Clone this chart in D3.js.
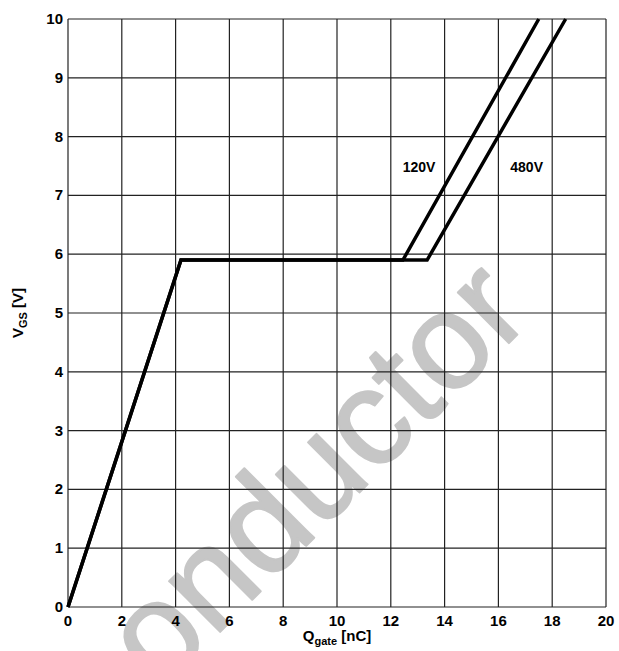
<!DOCTYPE html>
<html>
<head>
<meta charset="utf-8">
<script src="https://cdn.jsdelivr.net/npm/d3@7"></script>
<style>
  body{margin:0;background:#fff;}
  text{font-family:"Liberation Sans",Arial,sans-serif;font-weight:bold;}
</style>
</head>
<body>
<svg></svg>
<script>
// gate charge curves
var xTicks=[0,2,4,6,8,10,12,14,16,18,20];
var yTicks=[0,1,2,3,4,5,6,7,8,9,10];
var q120=[0,4.2,12.45,17.5];
var v120=[0,5.9,5.9,10];
var q480=[0,4.2,13.35,18.5];
var v480=[0,5.9,5.9,10];
var curveLabels=["120V","480V"];

var scren={width:619,height:651};
var margins={top:19,left:68,right:13,bottom:44};
var boxWidth=scren.width-margins.left-margins.right;
var boxHeight=scren.height-margins.top-margins.bottom;

var svg=d3.select("svg")
  .attr("width",scren.width)
  .attr("height",scren.height);

var xScale=d3.scaleLinear().domain([0,20]).range([0,boxWidth]);
var yScale=d3.scaleLinear().domain([0,10]).range([boxHeight,0]);

// watermark (behind everything)
svg.append("text")
  .attr("transform","translate(160,692) rotate(-45)")
  .attr("font-size",136)
  .style("font-weight","normal")
  .attr("fill","#c6c6c6")
  .attr("stroke","#c6c6c6")
  .attr("stroke-width",2)
  .attr("stroke-linejoin","round")
  .text("onductor");

var plot=svg.append("g")
  .attr("transform","translate("+margins.left+","+margins.top+")");

// grid
plot.append("g").selectAll("line").data(xTicks).enter().append("line")
  .attr("x1",d=>xScale(d)).attr("x2",d=>xScale(d))
  .attr("y1",0).attr("y2",boxHeight)
  .attr("stroke","#222").attr("stroke-width",1.2);
plot.append("g").selectAll("line").data(yTicks).enter().append("line")
  .attr("y1",d=>yScale(d)).attr("y2",d=>yScale(d))
  .attr("x1",0).attr("x2",boxWidth)
  .attr("stroke","#222").attr("stroke-width",1.2);

// tick labels
plot.append("g").selectAll("text").data(xTicks).enter().append("text")
  .attr("x",d=>xScale(d)).attr("y",boxHeight+19)
  .attr("text-anchor","middle").attr("font-size",15)
  .text(d=>d);
plot.append("g").selectAll("text").data(yTicks).enter().append("text")
  .attr("x",-5).attr("y",d=>yScale(d)+5)
  .attr("text-anchor","end").attr("font-size",15)
  .text(d=>d);

// curves
var line=d3.line().x(d=>xScale(d[0])).y(d=>yScale(d[1]));
[[q480,v480],[q120,v120]].forEach(function(s){
  plot.append("path")
    .datum(s[0].map((q,i)=>[q,s[1][i]]))
    .attr("d",line)
    .attr("fill","none").attr("stroke","#000")
    .attr("stroke-width",3.5).attr("stroke-linejoin","miter");
});

plot.append("text").attr("x",xScale(13.05)).attr("y",yScale(7.4))
  .attr("text-anchor","middle").attr("font-size",14).text(curveLabels[0]);
plot.append("text").attr("x",xScale(17.05)).attr("y",yScale(7.4))
  .attr("text-anchor","middle").attr("font-size",14).text(curveLabels[1]);

// axis titles
var xt=svg.append("text").attr("x",margins.left+boxWidth/2).attr("y",641)
  .attr("text-anchor","middle").attr("font-size",15);
xt.append("tspan").text("Q");
xt.append("tspan").attr("font-size",11).attr("dy",4).text("gate");
xt.append("tspan").attr("dy",-4).text(" [nC]");

var yt=svg.append("text")
  .attr("transform","translate(23,"+(margins.top+boxHeight/2)+") rotate(-90)")
  .attr("text-anchor","middle").attr("font-size",15);
yt.append("tspan").text("V");
yt.append("tspan").attr("font-size",11).attr("dy",4).text("GS");
yt.append("tspan").attr("dy",-4).text(" [V]");
</script>
</body>
</html>
